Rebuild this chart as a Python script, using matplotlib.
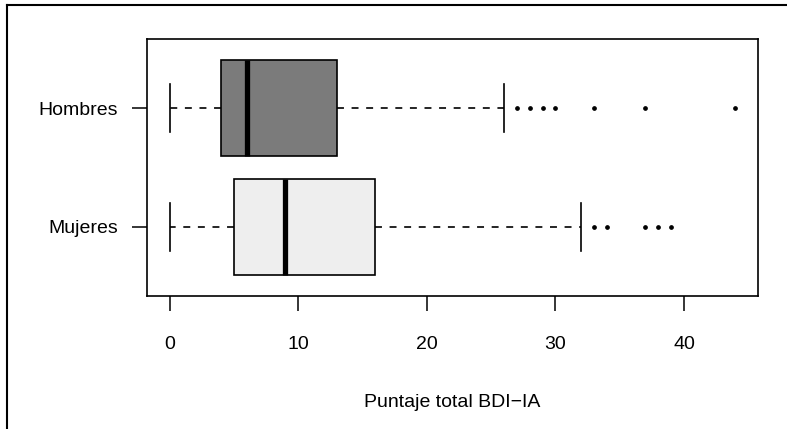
import matplotlib
matplotlib.use("Agg")
import matplotlib.pyplot as plt
from matplotlib.lines import Line2D

plt.rcParams['font.family'] = ['Liberation Sans', 'DejaVu Sans']
plt.rcParams['lines.scale_dashes'] = False

groups = ["Mujeres", "Hombres"]
whisker_low = [0, 0]
q1 = [5, 4]
median = [9, 6]
q3 = [16, 13]
whisker_high = [32, 26]
outliers = [
    [33, 34, 37, 38, 39],
    [27, 28, 29, 30, 33, 37, 44],
]
fills = ["#eeeeee", "#7b7b7b"]
x_ticks = [0, 10, 20, 30, 40]
x_label = "Puntaje total BDI\u2212IA"

W, H = 787, 429
fig = plt.figure(figsize=(W / 100, H / 100), dpi=100)
ax = fig.add_axes([147 / W, 1 - 296 / H, (758 - 147) / W, (296 - 39) / H])

stats = []
for i, g in enumerate(groups):
    stats.append(dict(label=g, whislo=whisker_low[i], q1=q1[i], med=median[i],
                      q3=q3[i], whishi=whisker_high[i], fliers=outliers[i]))

bp = ax.bxp(stats, positions=[1, 2], widths=0.8, vert=False, patch_artist=True,
            capwidths=0.4,
            boxprops=dict(linewidth=1.2, edgecolor='black'),
            medianprops=dict(color='black', linewidth=3.8, solid_capstyle='butt'),
            whiskerprops=dict(color='black', linewidth=1.2, linestyle=(0, (5, 5.5))),
            capprops=dict(color='black', linewidth=1.2),
            flierprops=dict(marker='o', markersize=2.4, markerfacecolor='black',
                            markeredgecolor='black', linestyle='none'))
for patch, c in zip(bp['boxes'], fills):
    patch.set_facecolor(c)

ax.set_xlim(-1.76, 45.76)
ax.set_ylim(0.42, 2.58)
ax.set_xticks(x_ticks)
ax.set_xticklabels([str(t) for t in x_ticks])
ax.set_yticks([1, 2])
ax.set_yticklabels(groups)
for s in ax.spines.values():
    s.set_linewidth(1.2)
ax.tick_params(axis='both', direction='out', length=11, width=1.1, labelsize=14)
ax.tick_params(axis='x', pad=18)
ax.tick_params(axis='y', pad=10)
ax.set_xlabel(x_label, fontsize=14, labelpad=29)

# outer frame (top and left visible)
fig.add_artist(Line2D([7 / W, 7 / W], [0, 1 - 5 / H], transform=fig.transFigure,
                      color='black', linewidth=1.5))
fig.add_artist(Line2D([7 / W, 1], [1 - 5 / H, 1 - 5 / H], transform=fig.transFigure,
                      color='black', linewidth=1.5))

fig.savefig("out.png", dpi=100)
